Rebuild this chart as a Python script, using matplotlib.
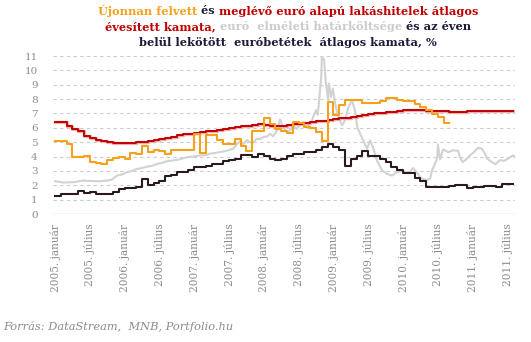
import matplotlib
matplotlib.use("Agg")
import matplotlib.pyplot as plt
import numpy as np

# havi adatok, 2005. január = 0
orange_new = [5.06, 5.06, 4.89, 3.96, 3.96, 4.01, 3.61, 3.54, 3.49, 3.77,
              3.89, 3.96, 3.84, 4.24, 4.20, 4.71, 4.31, 4.47, 4.36, 4.15,
              4.43, 4.47, 4.47, 4.47, 5.59, 4.24, 5.48, 5.48, 5.13, 4.89,
              4.89, 5.24, 4.73, 4.38, 5.78, 5.78, 6.71, 6.24, 5.90, 5.80,
              5.65, 6.41, 6.35, 6.05, 6.01, 5.70, 5.08, 7.81, 6.88, 7.57,
              7.92, 7.92, 7.96, 7.70, 7.70, 7.70, 7.90, 8.05, 8.05, 7.92,
              7.88, 7.90, 7.69, 7.46, 7.23, 6.99, 6.76, 6.35]

red_existing = [6.41, 6.38, 6.10, 5.94, 5.75, 5.45, 5.30, 5.15, 5.08, 5.02,
                4.96, 4.94, 4.94, 4.96, 5.00, 5.00, 5.05, 5.15, 5.24, 5.30,
                5.35, 5.50, 5.55, 5.60, 5.65, 5.70, 5.75, 5.80, 5.87, 5.95,
                6.00, 6.05, 6.11, 6.15, 6.20, 6.25, 6.22, 6.15, 6.12, 6.12,
                6.18, 6.25, 6.30, 6.35, 6.40, 6.45, 6.50, 6.55, 6.60, 6.65,
                6.70, 6.75, 6.85, 6.90, 6.95, 7.00, 7.05, 7.10, 7.12, 7.17,
                7.22, 7.23, 7.23, 7.22, 7.20, 7.20, 7.18, 7.15, 7.12, 7.12,
                7.13, 7.14, 7.15, 7.16, 7.17, 7.18, 7.20, 7.20, 7.20]

black_deposit = [1.28, 1.40, 1.40, 1.40, 1.63, 1.44, 1.50, 1.40, 1.40, 1.40,
                 1.56, 1.74, 1.81, 1.81, 1.86, 2.44, 2.05, 2.14, 2.28, 2.68,
                 2.75, 2.91, 2.95, 3.07, 3.26, 3.30, 3.37, 3.49, 3.49, 3.68,
                 3.75, 3.84, 4.08, 4.08, 4.00, 4.15, 4.01, 3.84, 3.77, 3.80,
                 4.01, 4.20, 4.20, 4.31, 4.31, 4.47, 4.66, 4.89, 4.66, 4.43,
                 3.37, 3.84, 4.01, 4.38, 4.01, 4.01, 3.84, 3.61, 3.26, 3.03,
                 2.84, 2.84, 2.52, 2.30, 1.91, 1.91, 1.91, 1.91, 1.98, 2.00,
                 2.05, 1.81, 1.91, 1.91, 1.98, 1.98, 1.91, 2.09, 2.09]

# határköltség, tört hónap
gray_month = [0, 1.4, 2, 3.4, 4.8, 6, 7.8, 9, 9.8, 10.7, 11.5, 12.4, 13.3, 14.1,
              15, 15.9, 16.7, 17.6, 18.4, 19.3, 20.2, 21, 21.9, 22.8, 23.8, 25,
              25.9, 26.7, 27.6, 28.4, 29.3, 30.2, 30.9, 31.4, 31.9, 32.4, 33.1,
              33.6, 34.1, 34.8, 35.3, 36, 36.6, 37.1, 37.6, 38.3, 38.8, 39.3,
              40, 40.5, 41, 41.7, 42.2, 42.8, 43.6, 44.1, 44.5, 45, 45.3, 45.9,
              46, 46.4, 46.7, 47.1, 47.2, 47.6, 47.9, 48.3, 48.8, 49.5, 50,
              50.5, 51.2, 51.7, 52.1, 52.6, 53.1, 53.8, 54.3, 54.8, 55.5, 56.4,
              57.2, 58.1, 59, 60, 60.7, 61.2, 61.7, 62.4, 62.9, 63.6, 64.1,
              64.7, 65, 65.5, 65.9, 66, 66.4, 66.9, 67.8, 68.6, 69.5, 69.8,
              70.3, 71, 71.6, 72.2, 72.9, 73.6, 74.1, 74.5, 75, 75.9, 76.7,
              77.4, 78.1, 78.6, 79, 79.3]
gray_value = [2.28, 2.19, 2.20, 2.22, 2.33, 2.30, 2.28, 2.33, 2.40, 2.68, 2.75,
              2.91, 3.00, 3.14, 3.20, 3.30, 3.35, 3.49, 3.55, 3.68, 3.72, 3.77,
              3.85, 3.96, 4.00, 4.08, 4.10, 4.20, 4.25, 4.31, 4.38, 4.47, 4.60,
              4.89, 5.05, 4.85, 5.15, 5.00, 4.95, 5.25, 5.20, 5.36, 5.41, 5.59,
              5.40, 5.83, 6.60, 6.06, 5.71, 5.83, 6.06, 5.94, 6.17, 6.41, 6.11,
              6.30, 6.76, 7.23, 6.90, 9.56, 10.95, 10.70, 9.09, 7.92, 9.09,
              8.15, 8.74, 7.69, 6.76, 6.18, 6.53, 7.34, 7.92, 7.23, 6.06, 5.59,
              5.13, 4.54, 5.13, 4.66, 3.73, 3.03, 2.80, 2.68, 2.91, 3.03, 2.85,
              2.90, 3.20, 2.90, 2.56, 2.40, 2.33, 2.50, 3.03, 3.49, 3.90, 4.85,
              3.80, 4.50, 4.30, 4.43, 4.40, 3.96, 3.61, 3.85, 4.10, 4.30, 4.60,
              4.55, 4.20, 3.85, 3.70, 3.47, 3.75, 3.70, 3.85, 4.00, 4.08, 3.96]

tick_months = list(range(0, 79, 6))
tick_labels = []
for y in range(2005, 2012):
    tick_labels += [f"{y}. január", f"{y}. július"]

ORANGE = "#f7a11a"
RED = "#c00000"
GRAY = "#d2d2d2"
BLACK = "#2a1a1f"
NAVY = "#1c1c3a"
TXT = "#8c8c8c"

fig = plt.figure(figsize=(5.31, 3.42), dpi=100)
ax = fig.add_axes([53 / 531, 1 - 214 / 342, 462 / 531, 158 / 342])

for v in range(1, 12):
    ax.axhline(v, color="#cccccc", lw=0.8, ls=(0, (3, 3)), zorder=0)
ax.axhline(0, color="#d0d0d0", lw=1.0, zorder=0)

ax.plot(gray_month, gray_value, color=GRAY, lw=1.5, zorder=2)

def steps(vals):
    x = np.arange(len(vals) + 1)
    return x, np.append(vals, vals[-1])

x, y = steps(black_deposit)
ax.plot(x, y, color=BLACK, lw=1.5, drawstyle="steps-post", zorder=3)
x, y = steps(red_existing)
ax.plot(x, y, color="#eab0b0", lw=2.4, drawstyle="steps-post", zorder=3)
ax.plot(x, y, color=RED, lw=1.4, drawstyle="steps-post", zorder=4)
x, y = steps(orange_new)
ax.plot(x, y, color=ORANGE, lw=1.5, drawstyle="steps-post", zorder=5)

ax.set_xlim(-0.35, 79.3)
ax.set_ylim(0, 11)
for s in ax.spines.values():
    s.set_visible(False)
ax.set_yticks(range(0, 12))
ax.set_yticklabels([str(v) for v in range(0, 12)], family="DejaVu Serif",
                   fontsize=7.5, color=TXT)
ax.set_xticks(tick_months)
ax.set_xticklabels(tick_labels, rotation=90, family="DejaVu Serif",
                   fontsize=7.6, color=TXT)
ax.tick_params(length=0, pad=7)
ax.tick_params(axis="y", pad=11)

# többszínű cím
title_lines = [
    [("Újonnan felvett ", ORANGE), ("és ", NAVY),
     ("meglévő euró alapú lakáshitelek átlagos", RED)],
    [("évesített kamata, ", RED), ("euró  elméleti határköltsége ", "#cccccc"),
     ("és az éven", NAVY)],
    [("belül lekötött  euróbetétek  átlagos kamata, %", NAVY)],
]
title_y = [11, 27, 43]
renderer = fig.canvas.get_renderer()
for parts, py in zip(title_lines, title_y):
    texts = [fig.text(0, 1 - py / 342, s, color=c, family="DejaVu Serif",
                      weight="bold", fontsize=8.2, va="center")
             for s, c in parts]
    widths = [t.get_window_extent(renderer).width for t in texts]
    x0 = 288 - sum(widths) / 2
    for t, w in zip(texts, widths):
        t.set_x(x0 / 531)
        x0 += w

fig.text(3 / 531, 1 - 327 / 342, "Forrás: DataStream,  MNB, Portfolio.hu",
         family="DejaVu Serif", style="italic", fontsize=8.2, color=TXT,
         va="center")

fig.savefig("out.png", dpi=100)
